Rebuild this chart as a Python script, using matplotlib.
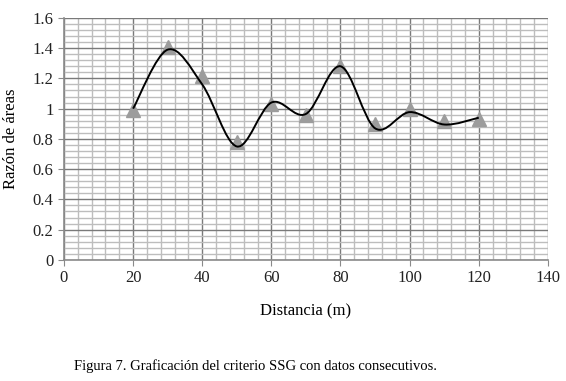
import numpy as np
import matplotlib
matplotlib.use('Agg')
import matplotlib.pyplot as plt
from matplotlib.path import Path
from matplotlib.patches import PathPatch
from matplotlib.ticker import MultipleLocator

# measured points (gray triangles)
distancia = [20, 30, 40, 50, 60, 70, 80, 90, 100, 110, 120]
razon_medida = [0.99, 1.41, 1.215, 0.78, 1.03, 0.96, 1.28, 0.90, 1.0, 0.92, 0.93]

# smoothed trend line nodes
razon_curva = [1.0, 1.39, 1.16, 0.75, 1.04, 0.965, 1.28, 0.87, 0.977, 0.895, 0.94]

x_ticks = [0, 20, 40, 60, 80, 100, 120, 140]
y_ticks = [0, 0.2, 0.4, 0.6, 0.8, 1.0, 1.2, 1.4, 1.6]
y_ticklabels = ['0', '0.2', '0.4', '0.6', '0.8', '1', '1.2', '1.4', '1.6']

plt.rcParams['font.family'] = ['Liberation Serif', 'DejaVu Serif']


def smooth_path(xs, ys, k=1/6):
    """Bezier path through the nodes, Excel-style smoothing."""
    p = np.column_stack([xs, ys]).astype(float)
    n = len(p)
    verts = [p[0]]
    codes = [Path.MOVETO]
    for i in range(n - 1):
        prev = p[i - 1] if i > 0 else p[i]
        nxt2 = p[i + 2] if i + 2 < n else p[i + 1]
        c1 = p[i] + (p[i + 1] - prev) * k
        c2 = p[i + 1] - (nxt2 - p[i]) * k
        verts += [c1, c2, p[i + 1]]
        codes += [Path.CURVE4] * 3
    return Path(verts, codes)


fig = plt.figure(figsize=(5.66, 3.81), dpi=100)
ax = fig.add_axes([0.113, 0.318, 0.855, 0.635])

ax.set_xlim(0, 140)
ax.set_ylim(0, 1.6)
ax.xaxis.set_minor_locator(MultipleLocator(4))
ax.yaxis.set_minor_locator(MultipleLocator(0.04))
ax.set_xticks(x_ticks)
ax.set_yticks(y_ticks)
ax.set_yticklabels(y_ticklabels)

ax.grid(which='minor', color='#bdbdbd', linewidth=1.0)
ax.grid(which='major', color='#7a7a7a', linewidth=1.0)
ax.set_axisbelow(True)

for s in ['top', 'right']:
    ax.spines[s].set_visible(False)
for s in ['left', 'bottom']:
    ax.spines[s].set_color('#8a8a8a')
    ax.spines[s].set_linewidth(1.2)

ax.tick_params(which='major', length=4, color='#8a8a8a', labelsize=12,
               labelcolor='#222222')
ax.tick_params(which='minor', length=0)

ax.plot(distancia, razon_medida, linestyle='none', marker='^', markersize=9.5,
        color='#9c9c9c', zorder=3)
ax.add_patch(PathPatch(smooth_path(distancia, razon_curva), facecolor='none',
                       edgecolor='black', linewidth=1.4, zorder=4))

ax.set_ylabel('Razón de áreas', fontsize=12, labelpad=10)
ax.set_xlabel('Distancia (m)', fontsize=12, labelpad=12)

fig.text(0.452, 0.04, 'Figura 7. Graficación del criterio SSG con datos consecutivos.',
         ha='center', va='center', fontsize=10.5)

fig.savefig('out.png', dpi=100)
